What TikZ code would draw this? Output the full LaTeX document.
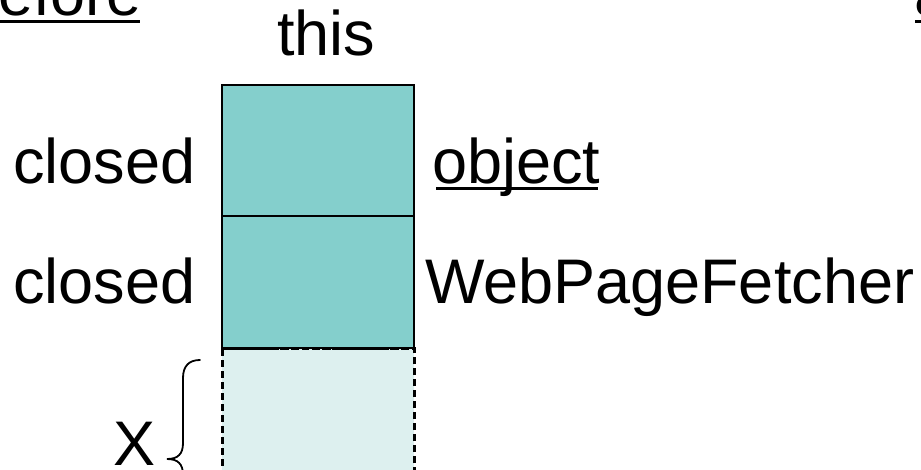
\documentclass[tikz,border=0pt]{standalone}
\usepackage{fontspec}
\setmainfont{Liberation Sans}
\definecolor{frameteal}{RGB}{132,207,204}
\definecolor{framelight}{RGB}{221,240,239}
\begin{document}
\begin{tikzpicture}[x=1pt,y=-1pt,
  lbl/.style={inner sep=0pt,outer sep=0pt,font=\fontsize{63}{75}\selectfont,anchor=base west},
  cell/.style={draw=black,line width=2pt,fill=frameteal,inner sep=0pt,outer sep=0pt,
    minimum width=192pt,anchor=north west},
  freecell/.style={draw=black,line width=3pt,dash pattern=on 7pt off 4pt,fill=framelight,
    inner sep=0pt,outer sep=0pt,minimum width=192pt,minimum height=132pt,anchor=north west},
  uline/.style={line width=2.6pt},
  bracestroke/.style={line width=1.8pt,line cap=round}]
\useasboundingbox (0,0) rectangle (921,469);
\clip (0,0) rectangle (921,469);

% stack cells
\node[cell,minimum height=131.5pt] (objcell) at (222,84.5) {};
\node[cell,minimum height=132pt] (fetchcell) at (222,216) {};
\node[freecell] (xcell) at (222,348) {};
\draw[line width=2pt] (fetchcell.south west) -- (fetchcell.south east);
\draw[line width=3pt,dash pattern=on 7pt off 3pt] (xcell.north west) -- (xcell.north east);

% headings
\node[lbl,anchor=base east] (before) at (142,15) {before};
\draw[uline] (-40,21.7) -- (140,21.7);
\node[lbl] (after) at (914,15) {after};
\draw[uline] (915,21.7) -- (1000,21.7);
\node[lbl] (this) at (277,55) {this};

% frame labels
\node[lbl] (closedA) at (13,183) {closed};
\node[lbl] (closedB) at (13,303) {closed};
\node[lbl] (object) at (432,183) {object};
\draw[uline] (436,188.5) -- (598,188.5);
\node[lbl] (fetcher) at (425,303) {WebPageFetcher};
\node[lbl] (xlabel) at (113,465) {X};

% brace spanning the free cell
\coordinate (bracetop) at (200,360);
\coordinate (bracetip) at (167,459);
\draw[bracestroke] (bracetop) .. controls (189,360) and (183,366) .. (183,378)
  -- (183,443) .. controls (183,454) and (178,459) .. (bracetip)
  .. controls (178,459) and (183,464) .. (183,475) -- (183,540);
\end{tikzpicture}
\end{document}
